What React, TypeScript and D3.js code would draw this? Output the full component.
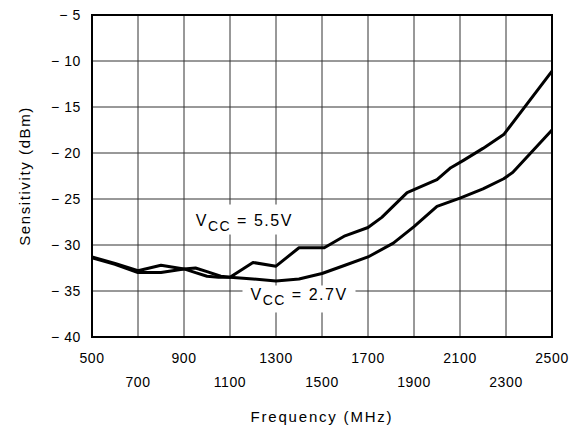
import React from 'react';
import * as d3 from 'd3';

const freq55 = [500, 600, 700, 800, 900, 950, 1000, 1050, 1100, 1200, 1300, 1400, 1510, 1600, 1700, 1760, 1870, 2000, 2060, 2115, 2200, 2290, 2500];
const sens55 = [-31.3, -32.0, -32.8, -32.2, -32.6, -33.0, -33.4, -33.5, -33.5, -31.9, -32.3, -30.3, -30.3, -29.0, -28.1, -27.0, -24.3, -22.9, -21.6, -20.8, -19.5, -18.0, -11.1];

const freq27 = [500, 600, 700, 800, 900, 950, 1000, 1060, 1100, 1200, 1300, 1400, 1500, 1600, 1700, 1810, 1900, 2000, 2100, 2200, 2290, 2330, 2500];
const sens27 = [-31.4, -32.1, -33.0, -33.0, -32.6, -32.5, -32.9, -33.4, -33.5, -33.7, -33.9, -33.7, -33.1, -32.2, -31.3, -29.8, -28.0, -25.8, -24.9, -23.9, -22.8, -22.1, -17.5];

const xTicks = [500, 700, 900, 1100, 1300, 1500, 1700, 1900, 2100, 2300, 2500];
const yTicks = [-5, -10, -15, -20, -25, -30, -35, -40];

const xTitle = 'Frequency (MHz)';
const yTitle = 'Sensitivity (dBm)';

const FONT = '"Liberation Sans", Arial, sans-serif';

export default function App() {
  const width = 579;
  const height = 429;
  const margin = { top: 15, right: 27, bottom: 92, left: 92 };
  const innerWidth = width - margin.left - margin.right;
  const innerHeight = height - margin.top - margin.bottom;

  const xScale = d3.scaleLinear().domain([500, 2500]).range([0, innerWidth]);
  const yScale = d3.scaleLinear().domain([-40, -5]).range([innerHeight, 0]);

  const line = d3.line<[number, number]>()
    .x(d => xScale(d[0]))
    .y(d => yScale(d[1]));

  const pts55 = freq55.map((f, i) => [f, sens55[i]] as [number, number]);
  const pts27 = freq27.map((f, i) => [f, sens27[i]] as [number, number]);

  return (
    <svg
      width={width}
      height={height}
      style={{ position: 'absolute', left: 0, top: 0, background: '#fff' }}
      fontFamily={FONT}
    >
      <g transform={`translate(${margin.left},${margin.top})`}>
        {/* grid */}
        {xTicks.map(t => (
          <line key={'gx' + t} x1={xScale(t)} x2={xScale(t)} y1={0} y2={innerHeight} stroke="#333" strokeWidth={1} />
        ))}
        {yTicks.map(t => (
          <line key={'gy' + t} x1={0} x2={innerWidth} y1={yScale(t)} y2={yScale(t)} stroke="#333" strokeWidth={1} />
        ))}

        {/* curves */}
        <path d={line(pts27) || ''} fill="none" stroke="#000" strokeWidth={3} strokeLinejoin="round" />
        <path d={line(pts55) || ''} fill="none" stroke="#000" strokeWidth={3} strokeLinejoin="round" />

        {/* curve labels on white boxes */}
        <rect x={xScale(925)} y={yScale(-25.6)} width={110} height={30} fill="#fff" />
        <text x={xScale(925) + 6} y={yScale(-27.9)} fontSize={16} letterSpacing={1.5} fill="#000">
          V<tspan fontSize={14} dy={5}>CC</tspan><tspan dy={-5}> = 5.5V</tspan>
        </text>

        <rect x={xScale(1150) + 1} y={yScale(-34.4)} width={113} height={27} fill="#fff" />
        <text x={xScale(1150) + 9} y={yScale(-36.0)} fontSize={16} letterSpacing={1.5} fill="#000">
          V<tspan fontSize={14} dy={5}>CC</tspan><tspan dy={-5}>  =  2.7V</tspan>
        </text>

        {/* frame */}
        <rect x={0} y={0} width={innerWidth} height={innerHeight} fill="none" stroke="#000" strokeWidth={2} />

        {/* y ticks */}
        {yTicks.map(t => (
          <text key={'ty' + t} x={-11} y={yScale(t)} dy="0.36em" textAnchor="end" fontSize={14} letterSpacing={0.6} fill="#000">
            {'\u2212 ' + Math.abs(t)}
          </text>
        ))}

        {/* x ticks, staggered in two rows */}
        {xTicks.map((t, i) => (
          <text key={'tx' + t} x={xScale(t)} y={innerHeight + (i % 2 === 0 ? 26 : 50)} textAnchor="middle" fontSize={14} letterSpacing={0.6} fill="#000">
            {t}
          </text>
        ))}

        <text x={innerWidth / 2} y={innerHeight + 85} textAnchor="middle" fontSize={15} letterSpacing={1.8} fill="#000">
          {xTitle}
        </text>
        <text transform="rotate(-90)" x={-innerHeight / 2} y={-62} textAnchor="middle" fontSize={15} letterSpacing={1.6} fill="#000">
          {yTitle}
        </text>
      </g>
    </svg>
  );
}
